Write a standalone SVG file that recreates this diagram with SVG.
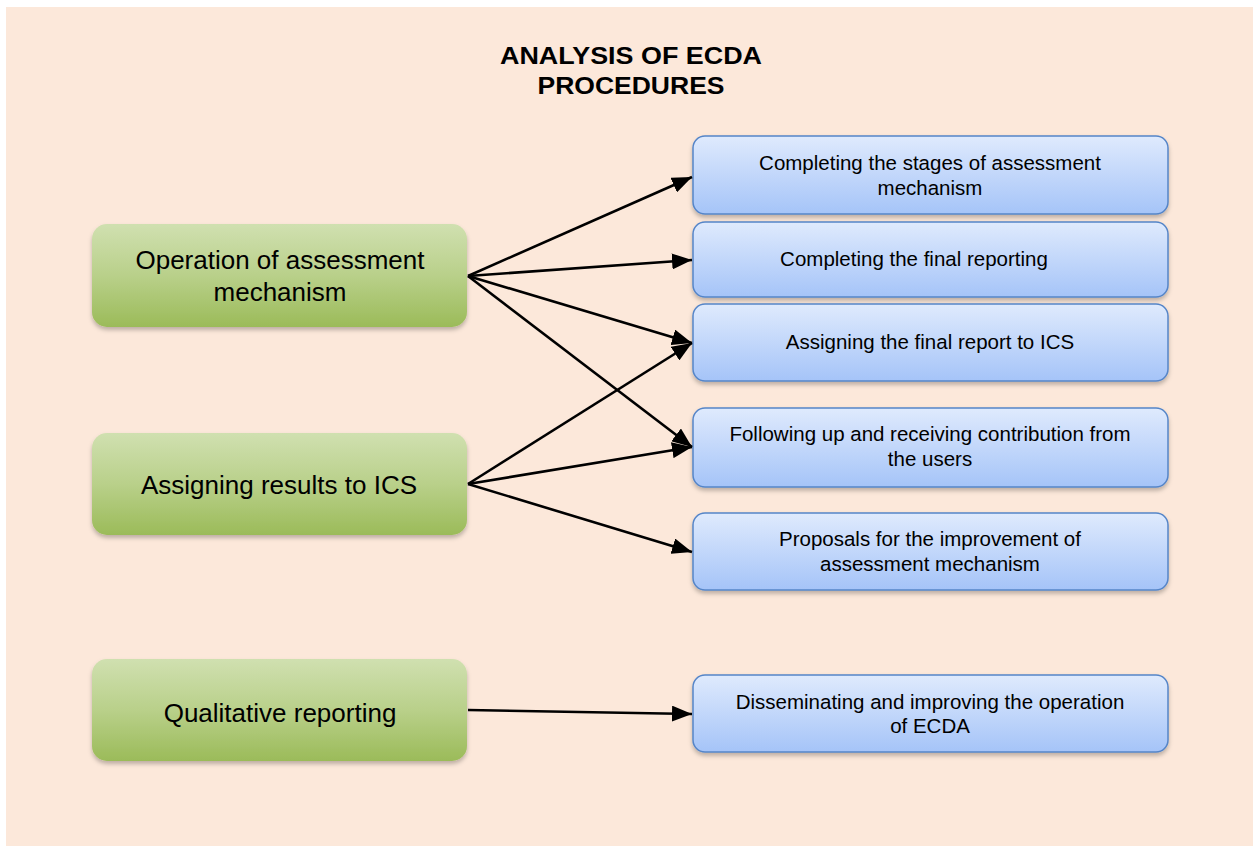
<svg xmlns="http://www.w3.org/2000/svg" width="1253" height="846" viewBox="0 0 1253 846">
<style>
.g rect{fill:url(#gg);}
.b rect{fill:url(#bg);stroke:#5585c8;stroke-width:1.5;}
.gt{font-family:"Liberation Sans",Arial,sans-serif;font-size:26px;fill:#000;text-anchor:middle;}
.bt{font-family:"Liberation Sans",Arial,sans-serif;font-size:20.5px;fill:#000;text-anchor:middle;}
.tt{font-family:"Liberation Sans",Arial,sans-serif;font-size:23px;font-weight:bold;fill:#000;text-anchor:middle;}
#conn line{stroke:#000;stroke-width:2.6;marker-end:url(#ah);}
</style>
<defs>
<linearGradient id="gg" x1="0" y1="0" x2="0" y2="1">
<stop offset="0" stop-color="#d0e0b0"/>
<stop offset="0.5" stop-color="#b9d08a"/>
<stop offset="1" stop-color="#9bbb59"/>
</linearGradient>
<linearGradient id="bg" x1="0" y1="0" x2="0" y2="1">
<stop offset="0" stop-color="#dfeafd"/>
<stop offset="1" stop-color="#a5c4f8"/>
</linearGradient>
<filter id="sh" x="-10%" y="-10%" width="120%" height="130%">
<feDropShadow dx="0" dy="3" stdDeviation="2" flood-color="#000" flood-opacity="0.25"/>
</filter>
<marker id="ah" markerUnits="userSpaceOnUse" markerWidth="22" markerHeight="16" refX="20" refY="8" orient="auto">
<path d="M0,0 L20,8 L0,16 Z" fill="#000"/>
</marker>
</defs>
<rect x="0" y="0" width="1253" height="846" fill="#ffffff"/>
<rect x="6" y="7" width="1247" height="839" fill="#fce8da"/>
<g id="title">
<text class="tt" x="631" y="64" textLength="262" lengthAdjust="spacingAndGlyphs">ANALYSIS  OF ECDA</text>
<text class="tt" x="631" y="94" textLength="187" lengthAdjust="spacingAndGlyphs">PROCEDURES</text>
</g>
<g id="n1" class="g"><rect x="92" y="224" width="375" height="103" rx="15" filter="url(#sh)"/>
<text class="gt" x="280" y="269">Operation  of assessment</text>
<text class="gt" x="280" y="301">mechanism</text></g>
<g id="n2" class="g"><rect x="92" y="433" width="375" height="102" rx="15" filter="url(#sh)"/>
<text class="gt" x="279" y="494">Assigning  results  to ICS</text></g>
<g id="n3" class="g"><rect x="92" y="659" width="375" height="102" rx="15" filter="url(#sh)"/>
<text class="gt" x="280" y="722">Qualitative  reporting</text></g>
<g id="b1" class="b"><rect x="693" y="136" width="475" height="78" rx="12" filter="url(#sh)"/>
<text class="bt" x="930" y="170">Completing  the stages of assessment</text>
<text class="bt" x="930" y="195">mechanism</text></g>
<g id="b2" class="b"><rect x="693" y="222" width="475" height="75" rx="12" filter="url(#sh)"/>
<text class="bt" x="914" y="266">Completing  the final  reporting</text></g>
<g id="b3" class="b"><rect x="693" y="304" width="475" height="77" rx="12" filter="url(#sh)"/>
<text class="bt" x="930" y="349">Assigning the final report to ICS</text></g>
<g id="b4" class="b"><rect x="693" y="408" width="475" height="79" rx="12" filter="url(#sh)"/>
<text class="bt" x="930" y="441">Following up and receiving  contribution from</text>
<text class="bt" x="930" y="466">the users</text></g>
<g id="b5" class="b"><rect x="693" y="513" width="475" height="77" rx="12" filter="url(#sh)"/>
<text class="bt" x="930" y="546">Proposals for the improvement  of</text>
<text class="bt" x="930" y="571">assessment mechanism</text></g>
<g id="b6" class="b"><rect x="693" y="675" width="475" height="77" rx="12" filter="url(#sh)"/>
<text class="bt" x="930" y="709">Disseminating and improving  the operation</text>
<text class="bt" x="930" y="733">of ECDA</text></g>
<g id="conn">
<line x1="468" y1="276" x2="692" y2="177"/>
<line x1="468" y1="276" x2="692" y2="260"/>
<line x1="468" y1="276" x2="692" y2="343"/>
<line x1="468" y1="276" x2="692" y2="447"/>
<line x1="468" y1="484" x2="692" y2="343"/>
<line x1="468" y1="484" x2="692" y2="447"/>
<line x1="468" y1="484" x2="692" y2="552"/>
<line x1="468" y1="710" x2="692" y2="714"/>
</g>
</svg>
